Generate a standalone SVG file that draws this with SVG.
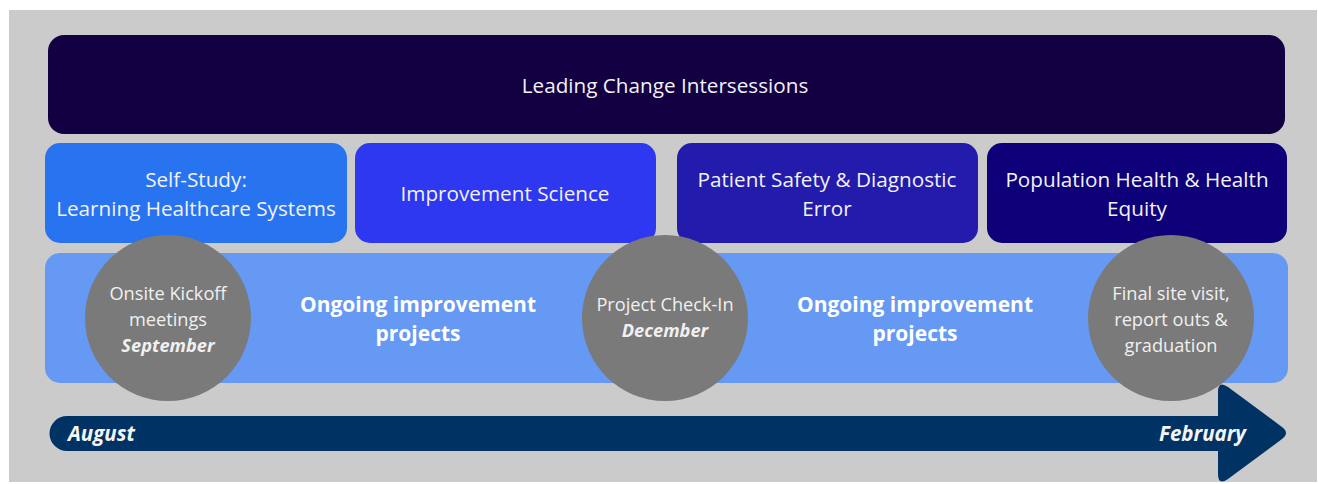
<svg xmlns="http://www.w3.org/2000/svg" width="1318" height="484" viewBox="0 0 1318 484">
<style>
text{font-family:"Open Sans","Noto Sans",sans-serif;fill:#f2f2f7;text-anchor:middle}
.t{font-size:20.7px}
.b{font-size:21px;font-weight:bold;fill:#ffffff}
.c{font-size:18.2px;fill:#f0f0f0}
.bi{font-weight:bold;font-style:italic}
.circ{fill:#7a7a7a}
.m{font-size:20.5px;font-weight:bold;font-style:italic;fill:#f5f5f5}
</style>
<rect x="0" y="0" width="1318" height="484" fill="#ffffff"/>
<rect x="9" y="10" width="1308" height="472" fill="#cbcbcb"/>
<g id="top">
<rect x="48" y="35" width="1237" height="99" rx="16" fill="#120042"/>
<text class="t" x="665" y="93">Leading Change Intersessions</text>
</g>
<g id="self-study">
<rect x="45" y="143" width="302" height="100" rx="15" fill="#2874f0"/>
<text class="t" x="196" y="187">Self-Study:</text>
<text class="t" x="196" y="216">Learning Healthcare Systems</text>
</g>
<g id="improvement-science">
<rect x="355" y="143" width="301" height="100" rx="15" fill="#2e38f0"/>
<text class="t" x="505" y="201">Improvement Science</text>
</g>
<g id="patient-safety">
<rect x="677" y="143" width="301" height="100" rx="15" fill="#221bab"/>
<text class="t" x="827" y="187">Patient Safety &amp; Diagnostic</text>
<text class="t" x="827" y="216">Error</text>
</g>
<g id="population-health">
<rect x="987" y="143" width="300" height="100" rx="15" fill="#0e0078"/>
<text class="t" x="1137" y="187">Population Health &amp; Health</text>
<text class="t" x="1137" y="216">Equity</text>
</g>
<g id="ongoing">
<rect x="45" y="253" width="1243" height="130" rx="15" fill="#6699f3"/>
<text class="b" x="418" y="312">Ongoing improvement</text>
<text class="b" x="418" y="341">projects</text>
<text class="b" x="915" y="312">Ongoing improvement</text>
<text class="b" x="915" y="341">projects</text>
</g>
<g id="timeline">
<path d="M67,416 L1218,416 L1218,392 Q1218,380 1228,387 L1282,427 Q1290,433 1282,439 L1228,479 Q1218,486 1218,474 L1218,451 L67,451 A17.5,17.5 0 0 1 67,416 Z" fill="#003363"/>
<text class="m" x="68" y="441" style="text-anchor:start">August</text>
<text class="m" x="1246" y="441" style="text-anchor:end">February</text>
</g>
<g id="kickoff">
<circle class="circ" cx="168" cy="318" r="83"/>
<text class="c" x="168" y="300">Onsite Kickoff</text>
<text class="c" x="168" y="326">meetings</text>
<text class="c bi" x="168" y="352">September</text>
</g>
<g id="checkin">
<circle class="circ" cx="665" cy="318" r="83"/>
<text class="c" x="665" y="311">Project Check-In</text>
<text class="c bi" x="665" y="337">December</text>
</g>
<g id="final">
<circle class="circ" cx="1171" cy="318" r="83"/>
<text class="c" x="1171" y="300">Final site visit,</text>
<text class="c" x="1171" y="326">report outs &amp;</text>
<text class="c" x="1171" y="352">graduation</text>
</g>
<g id="connectors"></g>
</svg>
